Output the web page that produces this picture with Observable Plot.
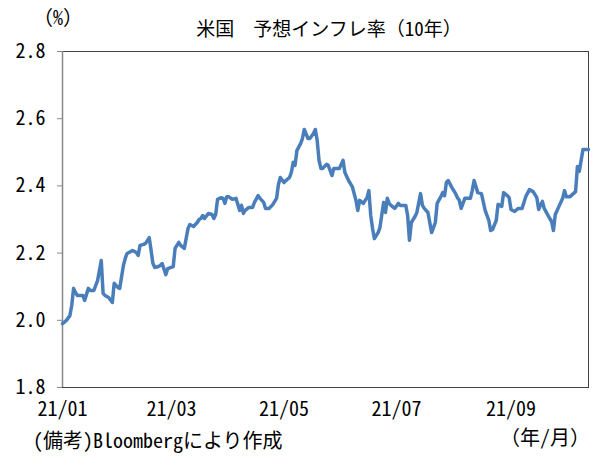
<!DOCTYPE html>
<html>
<head>
<meta charset="utf-8">
<script src="https://cdn.jsdelivr.net/npm/d3@7"></script>
<script src="https://cdn.jsdelivr.net/npm/@observablehq/plot@0.6"></script>
<style>
  body { margin: 0; background: #fff; }
  #wrap { position: relative; width: 602px; height: 462px; background: #fff;
          font-family: "Noto Sans CJK JP", "Noto Sans", sans-serif; color: #000; }
  #wrap svg { position: absolute; left: 0; top: 0; }
  #wrap svg text { font-feature-settings: "hwid"; }
  .lbl { position: absolute; white-space: nowrap; font-size: 19px; line-height: 20px; }
  .hw { font-feature-settings: "hwid"; }
</style>
</head>
<body>
<div id="wrap">
  <div class="lbl" id="title" style="left:0;width:658px;text-align:center;top:18px;">米国　予想インフレ率（<span class="hw">10</span>年）</div>
  <div class="lbl" style="left:33px;top:7px;font-size:20px;">（<span class="hw">%</span>）</div>
  <div class="lbl" style="left:33px;top:430px;font-size:20px;"><span class="hw">(</span>備考<span class="hw">)Bloomberg</span>により作成</div>
  <div class="lbl" style="right:12px;top:427px;font-size:20px;">（年<span class="hw">/</span>月）</div>
</div>
<script>
const dates = ["01-01","01-03","01-05","01-06","01-07","01-08","01-09","01-11","01-12","01-13",
"01-15","01-16","01-18","01-19","01-20","01-22","01-23","01-24","01-26","01-28",
"01-29","01-31","02-01","02-03","02-04","02-05","02-07","02-08","02-10","02-11",
"02-12","02-14","02-15","02-17","02-18","02-19","02-20","02-22","02-23","02-24",
"02-26","02-27","03-02","03-03","03-05","03-06","03-08","03-10","03-11","03-13",
"03-15","03-16","03-17","03-18","03-19","03-21","03-23","03-24","03-25","03-26",
"03-28","03-29","03-30","03-31","04-01","04-03","04-05","04-06","04-07","04-08",
"04-09","04-10","04-12","04-14","04-15","04-17","04-18","04-20","04-21","04-23",
"04-25","04-27","04-28","04-29","05-01","05-02","05-04","05-05","05-06","05-07",
"05-08","05-10","05-11","05-12","05-14","05-15","05-17","05-18","05-19","05-20",
"05-21","05-22","05-24","05-25","05-27","05-28","05-30","05-31","06-02","06-03",
"06-05","06-06","06-07","06-09","06-10","06-11","06-13","06-15","06-16","06-17",
"06-18","06-19","06-21","06-22","06-24","06-25","06-26","06-27","06-28","06-30",
"07-02","07-03","07-05","07-06","07-07","07-08","07-09","07-11","07-12","07-14",
"07-15","07-16","07-18","07-19","07-20","07-22","07-23","07-25","07-26","07-27",
"07-28","07-29","07-31","08-02","08-03","08-04","08-05","08-07","08-09","08-10",
"08-11","08-12","08-14","08-16","08-18","08-20","08-21","08-22","08-24","08-25",
"08-27","08-28","08-30","08-31","09-01","09-03","09-05","09-07","09-09","09-11",
"09-13","09-14","09-15","09-16","09-18","09-19","09-22","09-23","09-24","09-25",
"09-27","09-29","09-30","10-01","10-03","10-06","10-07","10-08","10-10","10-13"];

const values = [1.990,1.999,2.014,2.044,2.095,2.083,2.074,2.074,2.074,2.059,
2.095,2.089,2.089,2.104,2.118,2.178,2.080,2.074,2.068,2.053,
2.110,2.098,2.095,2.163,2.184,2.199,2.205,2.208,2.202,2.193,
2.223,2.226,2.229,2.246,2.208,2.169,2.157,2.160,2.163,2.169,
2.136,2.154,2.160,2.214,2.232,2.223,2.214,2.273,2.285,2.279,
2.291,2.300,2.303,2.312,2.303,2.318,2.315,2.303,2.315,2.360,
2.365,2.363,2.348,2.368,2.368,2.360,2.363,2.345,2.327,2.342,
2.318,2.327,2.336,2.336,2.351,2.371,2.363,2.351,2.333,2.333,
2.345,2.363,2.404,2.425,2.410,2.416,2.425,2.440,2.470,2.461,
2.505,2.526,2.541,2.568,2.541,2.541,2.556,2.568,2.535,2.476,
2.452,2.452,2.464,2.461,2.431,2.452,2.452,2.452,2.476,2.440,
2.416,2.407,2.398,2.357,2.327,2.357,2.348,2.365,2.386,2.312,
2.273,2.243,2.261,2.276,2.351,2.321,2.363,2.348,2.342,2.333,
2.348,2.342,2.342,2.342,2.312,2.238,2.291,2.309,2.321,2.377,
2.342,2.333,2.321,2.291,2.261,2.291,2.348,2.368,2.380,2.371,
2.410,2.416,2.395,2.377,2.365,2.357,2.333,2.363,2.363,2.363,
2.386,2.416,2.380,2.377,2.327,2.297,2.267,2.270,2.297,2.345,
2.339,2.380,2.371,2.365,2.330,2.324,2.333,2.333,2.368,2.389,
2.383,2.374,2.365,2.330,2.354,2.333,2.303,2.294,2.267,2.315,
2.339,2.363,2.386,2.368,2.368,2.383,2.458,2.443,2.508,2.508];

const yTicks = [1.8, 2.0, 2.2, 2.4, 2.6, 2.8];
const xTickLabels = ["21/01", "21/03", "21/05", "21/07", "21/09"];
const xTickDates = ["2021-01-01", "2021-03-01", "2021-05-01", "2021-07-01", "2021-09-01"];
const xDomain = ["2021-01-01", "2021-10-13"];

const data = dates.map((d, i) => ({date: new Date("2021-" + d + "T00:00:00Z"), value: values[i]}));
const xt = xTickDates.map(d => new Date(d + "T00:00:00Z"));
const labelOf = new Map(xt.map((d, i) => [+d, xTickLabels[i]]));

const chart = Plot.plot({
  width: 602,
  height: 462,
  marginLeft: 62,
  marginRight: 14,
  marginTop: 51,
  marginBottom: 75,
  style: {background: "transparent", fontFamily: "'Noto Sans CJK JP', sans-serif", fontSize: "20px", color: "#000"},
  x: {type: "utc", domain: xDomain.map(d => new Date(d + "T00:00:00Z"))},
  y: {domain: [1.8, 2.8]},
  marks: [
    Plot.frame({stroke: "#444", strokeWidth: 1}),
    Plot.axisY({ticks: yTicks, tickFormat: d => d.toFixed(1), tickSize: 5, tickPadding: 12, stroke: "#888", fill: "#000", label: null}),
    Plot.ruleX([xt[0]], {stroke: "#888", strokeWidth: 1.5}),
    Plot.axisX({ticks: xt, tickFormat: d => labelOf.get(+d), tickSize: 0, tickPadding: 14, label: null, fill: "#000"}),
    Plot.lineY(data, {x: "date", y: "value", stroke: "#4a7ebb", strokeWidth: 3.5, strokeLinejoin: "round", strokeLinecap: "round"})
  ]
});
document.getElementById("wrap").prepend(chart);
</script>
</body>
</html>
